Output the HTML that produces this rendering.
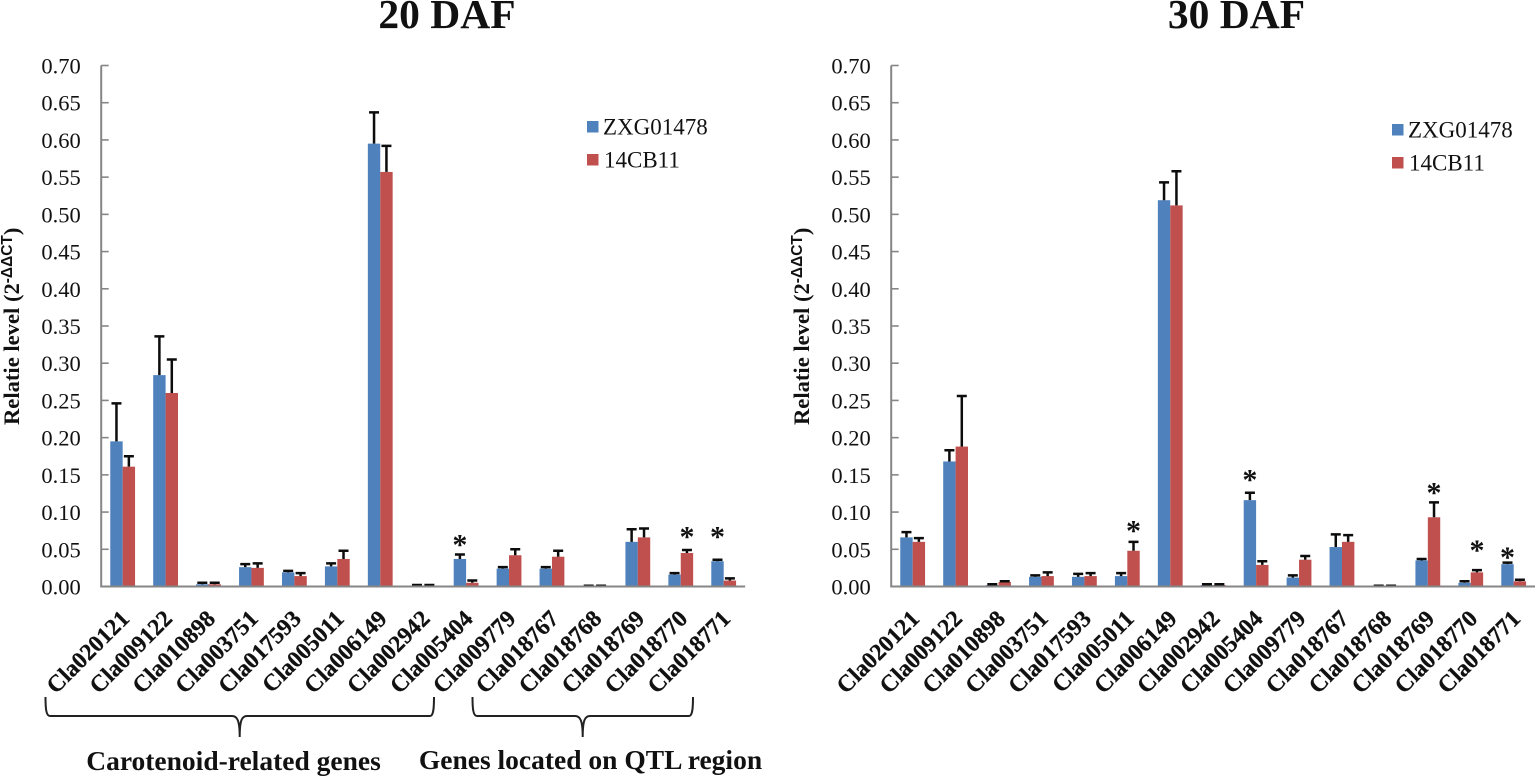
<!DOCTYPE html>
<html lang="en">
<head>
<meta charset="utf-8">
<title>Relative expression at 20 DAF and 30 DAF</title>
<style>
html,body{margin:0;padding:0;background:#fff;width:1535px;height:778px;overflow:hidden}
svg{display:block}
text{font-family:"Liberation Serif",serif;fill:#111}
</style>
</head>
<body>
<svg id="figure" xmlns="http://www.w3.org/2000/svg" width="1535" height="778" viewBox="0 0 1535 778">
  <text x="447" y="28" font-size="41.5" font-weight="bold" text-anchor="middle">20 DAF</text>
  <text x="1236.5" y="28" font-size="41.5" font-weight="bold" text-anchor="middle">30 DAF</text>

  <path d="M45.5 697 C45.5 708 46 716 50 716 L232 716 C237 716 239.7 720 239.7 737 C239.7 720 242 716 247 716 L430 716 C433.5 716 434 708 434 697" fill="none" stroke="#222" stroke-width="2"/>
  <path d="M472.5 697 C472.5 708 473 716 477 716 L575 716 C580 716 582.7 720 582.7 737 C582.7 720 585 716 590 716 L689 716 C692.5 716 693 708 693 697" fill="none" stroke="#222" stroke-width="2"/>
  <text x="233.5" y="770" font-size="27.5" font-weight="bold" text-anchor="middle">Carotenoid-related genes</text>
  <text x="590.5" y="769" font-size="27.5" font-weight="bold" text-anchor="middle">Genes located on QTL region</text>
</svg>
<script>
var NS = 'http://www.w3.org/2000/svg';

// Shared category and axis data
var genes = ['Cla020121','Cla009122','Cla010898','Cla003751','Cla017593','Cla005011','Cla006149','Cla002942','Cla005404','Cla009779','Cla018767','Cla018768','Cla018769','Cla018770','Cla018771'];
var yTickLabels = ['0.00','0.05','0.10','0.15','0.20','0.25','0.30','0.35','0.40','0.45','0.50','0.55','0.60','0.65','0.70'];
var seriesNames = ['ZXG01478','14CB11'];

// 20 DAF values
var zxg20 = [0.195,0.284,0.003,0.026,0.019,0.027,0.595,0.001,0.037,0.024,0.024,0.0005,0.060,0.016,0.034];
var cb20 = [0.161,0.260,0.003,0.025,0.014,0.037,0.557,0.001,0.005,0.042,0.040,0.0005,0.066,0.045,0.008];
var zxg20Err = [0.051,0.052,0.002,0.004,0.002,0.004,0.042,0.001,0.006,0.002,0.002,0.0005,0.017,0.002,0.002];
var cb20Err = [0.014,0.045,0.002,0.006,0.004,0.011,0.035,0.001,0.003,0.008,0.008,0.0005,0.012,0.004,0.003];
// significant genes: category index, series index
var sig20 = [[8,0],[13,1],[14,0]];
// value-axis offset of each star above its error bar
var sigLift20 = [0.0175,0.022,0.035];

// 30 DAF values
var zxg30 = [0.066,0.168,0.002,0.013,0.013,0.014,0.519,0.002,0.116,0.012,0.053,0.0005,0.035,0.005,0.030];
var cb30 = [0.060,0.188,0.006,0.014,0.014,0.048,0.512,0.002,0.029,0.036,0.060,0.0005,0.093,0.019,0.007];
var zxg30Err = [0.007,0.015,0.001,0.002,0.004,0.004,0.024,0.001,0.010,0.003,0.017,0.0005,0.002,0.002,0.002];
var cb30Err = [0.005,0.068,0.001,0.005,0.004,0.012,0.046,0.001,0.005,0.005,0.009,0.0005,0.020,0.003,0.002];
var sig30 = [[5,1],[8,0],[12,1],[13,1],[14,0]];
var sigLift30 = [0.019,0.0215,0.0175,0.031,0.012];

var svg = document.getElementById('figure');

function make(tag, attrs, parent, txt) {
  var el = document.createElementNS(NS, tag);
  for (var k in attrs) el.setAttribute(k, attrs[k]);
  if (txt !== undefined) el.textContent = txt;
  parent.appendChild(el);
  return el;
}

function drawPanel(id, left, legendX, legendY, s1, s2, e1, e2, sig, lift) {
  var baseY = 586.5, topY = 65.5, maxVal = 0.70, step = 42.93, barW = 12.4;
  var colors = ['#4f81bd', '#c0504d'];
  var values = [s1, s2], errs = [e1, e2];
  function y(v) { return baseY - (v / maxVal) * (baseY - topY); }
  function x(i) { return left + step * (i + 0.5); }

  var panel = make('g', {}, svg);
  
  

  // bars
  values.forEach(function (vals, s) {
    vals.forEach(function (v, i) {
      var bx = x(i) + (s === 0 ? -barW : 0);
      var bar = make('rect', {x: bx, y: y(v), width: barW, height: baseY - y(v), fill: colors[s]}, panel);
      
      
    });
  });

  // error bars
  values.forEach(function (vals, s) {
    vals.forEach(function (v, i) {
      var cx = x(i) + (s === 0 ? -barW / 2 : barW / 2);
      var t = y(v + errs[s][i]);
      var eb = make('path', {d: 'M' + cx + ' ' + y(v) + 'V' + t + 'M' + (cx - 5) + ' ' + t + 'H' + (cx + 5), stroke: '#0c0c0c', 'stroke-width': 2.5, fill: 'none'}, panel);
      
      
    });
  });

  // axes
  var axis = make('path', {d: 'M' + left + ' ' + topY + 'V' + baseY + 'H' + (left + step * 15), stroke: '#868686', 'stroke-width': 2, fill: 'none'}, panel);
  
  

  yTickLabels.forEach(function (lab) {
    var v = parseFloat(lab);
    var tick = make('line', {x1: left, x2: left + 7.5, y1: y(v), y2: y(v), stroke: '#868686', 'stroke-width': 1.6}, panel);
    
    
    var tl = make('text', {x: left - 20.5, y: y(v) + 8, 'font-size': 22.5, 'text-anchor': 'end'}, panel, lab);
    
    
  });

  genes.forEach(function (g, i) {
    var ax = x(i) + 8, ay = 620;
    var gl = make('text', {x: ax, y: ay, 'font-size': 23.5, 'font-weight': 'bold', 'text-anchor': 'end', stroke: '#111', 'stroke-width': 0.3, transform: 'rotate(-45 ' + ax + ' ' + ay + ')'}, panel, g);
    
    
  });

  // significance stars
  sig.forEach(function (p, n) {
    var i = p[0], s = p[1];
    var cx = x(i) + (s === 0 ? -barW / 2 : barW / 2);
    var t = y(values[s][i] + errs[s][i] + lift[n]);
    var st = make('text', {x: cx, y: t + 13, 'font-size': 30, 'font-weight': 'bold', 'text-anchor': 'middle'}, panel, '*');
    
    
  });

  // y axis title
  var tx = left - 82, ty = 425;
  var yt = make('text', {x: tx, y: ty, 'font-size': 22.6, 'font-weight': 'bold', transform: 'rotate(-90 ' + tx + ' ' + ty + ')'}, panel);
  
  
  make('tspan', {}, yt, 'Relatie level (2');
  make('tspan', {dy: -7, 'font-size': 15.5, 'font-family': '"Liberation Sans",sans-serif'}, yt, '-ΔΔCT');
  make('tspan', {dy: 7}, yt, ')');

  // legend
  seriesNames.forEach(function (n, s) {
    var ly = legendY + s * 33;
    var sw = make('rect', {x: legendX, y: ly, width: 11.5, height: 11.5, fill: colors[s]}, panel);
    
    
    var lt = make('text', {x: legendX + 16 + (s === 1 ? 1 : 0), y: ly + 13.5, 'font-size': 23}, panel, n);
    
    
  });
}

drawPanel('daf20', 101.2, 587, 121, zxg20, cb20, zxg20Err, cb20Err, sig20, sigLift20);
drawPanel('daf30', 891.2, 1392, 124, zxg30, cb30, zxg30Err, cb30Err, sig30, sigLift30);
</script>
</body>
</html>
